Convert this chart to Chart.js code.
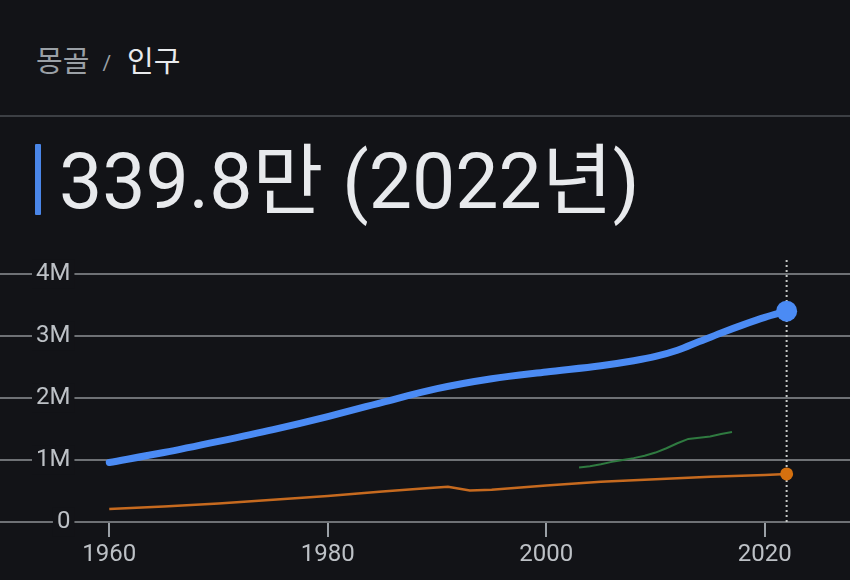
<!DOCTYPE html>
<html lang="ko">
<head>
<meta charset="utf-8">
<script src="https://cdn.jsdelivr.net/npm/chart.js@4/dist/chart.umd.min.js"></script>
<style>
  html, body { margin: 0; padding: 0; }
  body {
    width: 850px; height: 580px; overflow: hidden; position: relative;
    background: #121317;
    font-family: Roboto, "Noto Sans CJK KR", sans-serif;
  }
  #crumb {
    position: absolute; left: 36px; top: 42px; height: 40px; line-height: 40px;
    font-size: 29px; white-space: nowrap;
  }
  #crumb .muted { color: #9aa0a6; }
  #crumb .sep { color: #9aa0a6; font-size: 21px; margin: 0 16px 0 13px; vertical-align: 2px; }
  #crumb .cur { color: #e8eaed; }
  #rule { position: absolute; left: 0; top: 115px; width: 850px; height: 2px; background: #3c3f44; }
  #bar { position: absolute; left: 35px; top: 144px; width: 6px; height: 71px; background: #4a86e8; border-radius: 1px; }
  #value {
    position: absolute; left: 59px; top: 137px; height: 90px; line-height: 90px;
    font-size: 77px; color: #e8eaed; white-space: nowrap;
  }
  #wrap { position: absolute; left: 0; top: 240px; width: 850px; height: 340px; }
</style>
</head>
<body>
<div id="crumb"><span class="muted">몽골</span><span class="sep">/</span><span class="cur">인구</span></div>
<div id="rule"></div>
<div id="bar"></div>
<div id="value">339.8만 (2022년)</div>
<div id="wrap"><canvas id="chart" width="850" height="340"></canvas></div>

<script>
// Blue series: population (in people)
const popYears = [1960, 1965, 1970, 1975, 1980, 1985, 1990, 1995, 2000, 2005, 2008, 2010, 2012, 2014, 2016, 2018, 2020, 2022];
const popValues = [0.96e6, 1.12e6, 1.30e6, 1.49e6, 1.70e6, 1.93e6, 2.15e6, 2.31e6, 2.42e6, 2.52e6, 2.60e6, 2.67e6, 2.77e6, 2.91e6, 3.05e6, 3.18e6, 3.30e6, 3.40e6];

// Orange series
const orangeYears = [1960, 1965, 1970, 1975, 1980, 1985, 1989, 1991, 1993, 1995, 2000, 2005, 2010, 2015, 2020, 2022];
const orangeValues = [0.21e6, 0.25e6, 0.30e6, 0.36e6, 0.42e6, 0.49e6, 0.545e6, 0.57e6, 0.51e6, 0.52e6, 0.59e6, 0.65e6, 0.69e6, 0.73e6, 0.76e6, 0.775e6];

// Green series
const greenYears = [2003, 2004, 2005, 2006, 2007, 2008, 2009, 2010, 2011, 2012, 2013, 2014, 2015, 2016, 2017];
const greenValues = [0.88e6, 0.90e6, 0.93e6, 0.97e6, 1.00e6, 1.03e6, 1.07e6, 1.12e6, 1.19e6, 1.27e6, 1.34e6, 1.36e6, 1.38e6, 1.42e6, 1.45e6];

// Axes
const xTicks = [1960, 1980, 2000, 2020];
const xTickLabels = ['1960', '1980', '2000', '2020'];
const yTicks = [0, 1e6, 2e6, 3e6, 4e6];
const yTickLabels = ['0', '1M', '2M', '3M', '4M'];
const xMin = 1950, xMax = 2027.8;
const yMin = 0, yMax = 4.258e6;
const markerYear = 2022;

const bg = '#121317';
const fontFamily = 'Roboto, "Noto Sans CJK KR", sans-serif';

const toPoints = (xs, ys) => xs.map((x, i) => ({ x, y: ys[i] }));
const lastOnly = (r) => (ctx) => ctx.dataIndex === ctx.dataset.data.length - 1 ? r : 0;

const ctx = document.getElementById('chart').getContext('2d');
new Chart(ctx, {
    type: 'line',
    data: {
        datasets: [
            {
                label: '인구',
                data: toPoints(popYears, popValues),
                borderColor: '#4b8bf4',
                backgroundColor: '#4b8bf4',
                borderWidth: 7,
                borderCapStyle: 'round',
                borderJoinStyle: 'round',
                cubicInterpolationMode: 'monotone',
                pointRadius: lastOnly(10.5),
                pointBorderWidth: 0,
                order: 1
            },
            {
                label: 'green',
                data: toPoints(greenYears, greenValues),
                borderColor: '#2f7a40',
                borderWidth: 2,
                tension: 0,
                pointRadius: 0,
                order: 3
            },
            {
                label: 'orange',
                data: toPoints(orangeYears, orangeValues),
                borderColor: '#c66a1f',
                backgroundColor: '#d4700f',
                borderWidth: 2.5,
                tension: 0,
                pointRadius: lastOnly(6.5),
                pointBorderWidth: 0,
                order: 2
            },
            {
                label: 'marker',
                data: [{ x: markerYear, y: yMin }, { x: markerYear, y: yMax }],
                borderColor: '#c4c7c5',
                borderWidth: 2,
                borderDash: [2, 3],
                pointRadius: 0,
                order: 10
            }
        ]
    },
    options: {
        responsive: false,
        animation: false,
        events: [],
        layout: { autoPadding: false, padding: { top: 18, left: 0, right: 0, bottom: 0 } },
        plugins: {
            legend: { display: false },
            tooltip: { enabled: false }
        },
        scales: {
            x: {
                type: 'linear',
                min: xMin,
                max: xMax,
                afterBuildTicks: (axis) => { axis.ticks = xTicks.map(v => ({ value: v })); },
                afterFit: (axis) => {
                    axis.height = 58;
                    axis.paddingLeft = axis.paddingRight = 0;
                },
                border: { display: false },
                grid: {
                    drawOnChartArea: false,
                    drawTicks: true,
                    tickLength: 15,
                    color: '#9aa0a6',
                    lineWidth: 2
                },
                ticks: {
                    color: '#bdc1c6',
                    font: { family: fontFamily, size: 24 },
                    padding: 4,
                    maxRotation: 0,
                    autoSkip: false,
                    callback: (v) => xTickLabels[xTicks.indexOf(v)]
                }
            },
            y: {
                min: yMin,
                max: yMax,
                afterBuildTicks: (axis) => { axis.ticks = yTicks.map(v => ({ value: v })); },
                afterFit: (axis) => {
                    axis.width = 0;
                    axis.paddingTop = axis.paddingBottom = 0;
                },
                border: { display: false },
                grid: {
                    color: '#6e7175',
                    lineWidth: 2,
                    drawTicks: false
                },
                ticks: {
                    mirror: true,
                    crossAlign: 'far',
                    padding: 36,
                    color: '#bdc1c6',
                    font: { family: fontFamily, size: 24 },
                    showLabelBackdrop: true,
                    backdropColor: bg,
                    backdropPadding: { left: 4, right: 4, top: 0, bottom: 0 },
                    autoSkip: false,
                    callback: (v) => yTickLabels[yTicks.indexOf(v)]
                }
            }
        }
    }
});
</script>
</body>
</html>
